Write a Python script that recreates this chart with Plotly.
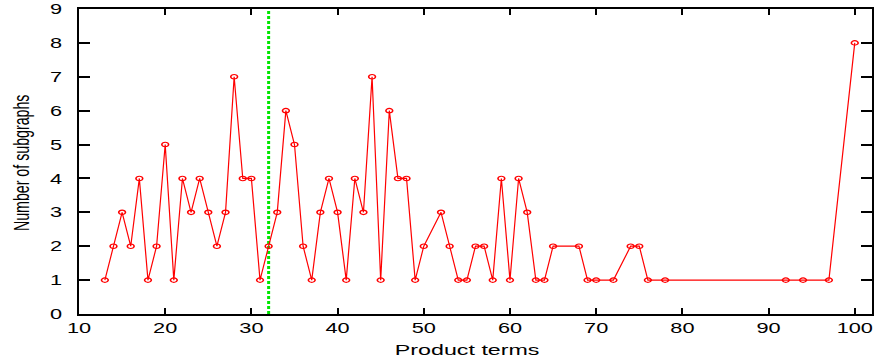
import plotly.graph_objects as go

product_terms = [13, 14, 15, 16, 17, 18, 19, 20, 21, 22, 23, 24, 25, 26, 27, 28, 29, 30,
                 31, 32, 33, 34, 35, 36, 37, 38, 39, 40, 41, 42, 43, 44, 45, 46, 47, 48,
                 49, 50, 52, 53, 54, 55, 56, 57, 58, 59, 60, 61, 62, 63, 64, 65, 68, 69,
                 70, 72, 74, 75, 76, 78, 92, 94, 97, 100]
num_subgraphs = [1, 2, 3, 2, 4, 1, 2, 5, 1, 4, 3, 4, 3, 2, 3, 7, 4, 4,
                 1, 2, 3, 6, 5, 2, 1, 3, 4, 3, 1, 4, 3, 7, 1, 6, 4, 4,
                 1, 2, 3, 2, 1, 1, 2, 2, 1, 4, 1, 4, 3, 1, 1, 2, 2, 1,
                 1, 1, 2, 2, 1, 1, 1, 1, 1, 8]
threshold_x = 32
x_ticks = [10, 20, 30, 40, 50, 60, 70, 80, 90, 100]
y_ticks = [0, 1, 2, 3, 4, 5, 6, 7, 8, 9]
x_title = "Product terms"
y_title = "Number of subgraphs"

fig = go.Figure()
fig.add_trace(go.Scatter(
    x=[threshold_x, threshold_x], y=[0, 9], mode="lines",
    line=dict(color="#00e600", width=3, dash="3px,2px"), showlegend=False,
    hoverinfo="skip"))
fig.add_trace(go.Scatter(
    x=product_terms, y=num_subgraphs, mode="lines+markers",
    line=dict(color="red", width=1.2),
    marker=dict(symbol="circle-open", size=4.5, color="red", line=dict(width=1.1)),
    showlegend=False))

tick_font = dict(family="Liberation Sans, Arial, sans-serif", size=14.5, color="black")
title_font = dict(family="Liberation Sans, Arial, sans-serif", size=15.5, color="black")
fig.update_layout(
    width=878, height=360,
    margin=dict(l=79, r=6, t=9, b=46),
    plot_bgcolor="white", paper_bgcolor="white",
    xaxis=dict(range=[10, 102], tickvals=x_ticks, ticks="inside", ticklen=6,
               tickwidth=1.5, tickcolor="black", showline=True, linecolor="black",
               linewidth=2, mirror="ticks", showgrid=False, zeroline=False,
               tickfont=tick_font, automargin=False),
    yaxis=dict(range=[0, 9], tickvals=y_ticks, ticks="inside", ticklen=11,
               tickwidth=1.5, tickcolor="black", showline=True, linecolor="black",
               linewidth=2, mirror="ticks", showgrid=False, zeroline=False,
               tickfont=tick_font, ticklabelstandoff=12, automargin=False),
    annotations=[
        dict(text=x_title, xref="paper", yref="paper", x=0.4905, y=0,
             xanchor="center", yanchor="middle", yshift=-35, showarrow=False,
             font=title_font),
        dict(text=y_title, xref="paper", yref="paper", x=0, y=0.495,
             xanchor="center", yanchor="middle", xshift=-57, textangle=-90,
             showarrow=False, font=dict(family="Liberation Sans, Arial, sans-serif",
                                        size=14.2, color="black")),
    ],
)

post = """
document.body.style.margin = '0';
document.body.style.overflow = 'hidden';
var gd = document.getElementById('{plot_id}');
var S = 1.5;
function stretchX(el, s) {
  var bb = el.getBBox();
  var anchor = el.getAttribute('text-anchor') || 'start';
  var ax = anchor === 'middle' ? bb.x + bb.width / 2 : (anchor === 'end' ? bb.x + bb.width : bb.x);
  var t = el.getAttribute('transform') || '';
  el.setAttribute('transform', t + ' translate(' + ax + ',0) scale(' + s + ',1) translate(' + (-ax) + ',0)');
}
function stretchLocalY(el, s) {
  var bb = el.getBBox();
  var cy = bb.y + bb.height / 2;
  var t = el.getAttribute('transform') || '';
  el.setAttribute('transform', t + ' translate(0,' + cy + ') scale(1,' + s + ') translate(0,' + (-cy) + ')');
}
gd.querySelectorAll('.xtick text, .ytick text').forEach(function(el){ stretchX(el, S); });
var anns = gd.querySelectorAll('.annotation-text');
anns.forEach(function(el){
  if (el.textContent.indexOf('subgraphs') >= 0) { stretchLocalY(el, S); } else { stretchX(el, S); }
});
gd.querySelectorAll('.scatterlayer .points path.point').forEach(function(el){
  var t = el.getAttribute('transform') || '';
  el.setAttribute('transform', t + ' scale(' + S + ',1)');
});
"""
fig.write_html("out.html", post_script=post, config={"displayModeBar": False})
